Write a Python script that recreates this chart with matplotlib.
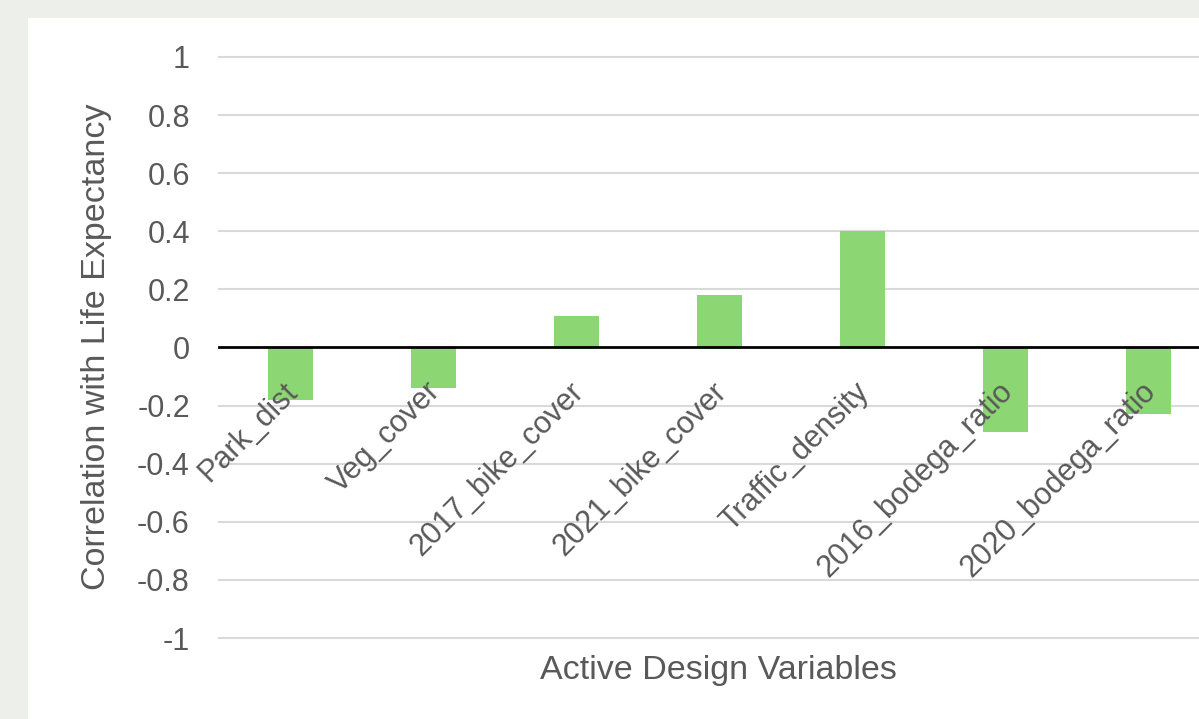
import matplotlib
matplotlib.use("Agg")
import matplotlib.pyplot as plt
from matplotlib.patches import Rectangle
from matplotlib.transforms import offset_copy

# Correlation of each active design variable with life expectancy
variables = ["Park_dist", "Veg_cover", "2017_bike_cover", "2021_bike_cover",
             "Traffic_density", "2016_bodega_ratio", "2020_bodega_ratio"]
correlations = [-0.18, -0.14, 0.11, 0.18, 0.40, -0.29, -0.23]
y_ticks = [-1, -0.8, -0.6, -0.4, -0.2, 0, 0.2, 0.4, 0.6, 0.8, 1]
y_tick_labels = ["-1", "-0.8", "-0.6", "-0.4", "-0.2", "0", "0.2", "0.4", "0.6", "0.8", "1"]

W, H = 1199, 719
TEXT = "#595959"
BAR = "#8CD673"
GRID = "#D9D9D9"

plt.rcParams["font.family"] = ["Liberation Sans", "DejaVu Sans"]

fig = plt.figure(figsize=(W / 100, H / 100), dpi=100, facecolor="#EDEFEB")

# white card behind the chart
fig.patches.append(Rectangle((28 / W, 0), 1 - 28 / W, 1 - 18 / H,
                             transform=fig.transFigure, facecolor="white",
                             edgecolor="none", zorder=-5))

left, right = 219 / W, 1220 / W
top, bottom = 1 - 57 / H, 1 - 638 / H
ax = fig.add_axes([left, bottom, right - left, top - bottom])
ax.set_zorder(2)
ax.set_facecolor("none")

x = list(range(len(variables)))
ax.bar(x, correlations, width=0.31, color=BAR, zorder=2)

ax.set_xlim(-0.5, len(variables) - 0.5)
ax.set_ylim(-1, 1)

for t in y_ticks:
    if t == 0:
        continue
    ax.axhline(t, color=GRID, lw=1.5, zorder=1, clip_on=False)
ax.axhline(0, color="black", lw=2.0, zorder=3, clip_on=False)

ax.set_yticks(y_ticks)
ax.set_yticklabels(y_tick_labels, fontsize=22, color=TEXT)
ax.tick_params(axis="y", length=0, pad=21)
ax.set_xticks([])
for s in ax.spines.values():
    s.set_visible(False)

# category labels hanging from the zero line
for xi, name in zip(x, variables):
    tr = offset_copy(ax.transData, fig=fig, x=-8, y=-29, units="dots")
    ax.text(xi, 0, name, transform=tr, rotation=45, rotation_mode="anchor",
            ha="right", va="top", fontsize=22, color=TEXT, zorder=4)

fig.text(97 / W, 1 - 347 / H, "Correlation with Life Expectancy", rotation=90,
         ha="center", va="center", fontsize=24.5, color=TEXT)
fig.text(718 / W, 1 - 671 / H, "Active Design Variables",
         ha="center", va="center", fontsize=24.5, color=TEXT)

fig.savefig("out.png", dpi=100, facecolor=fig.get_facecolor())
